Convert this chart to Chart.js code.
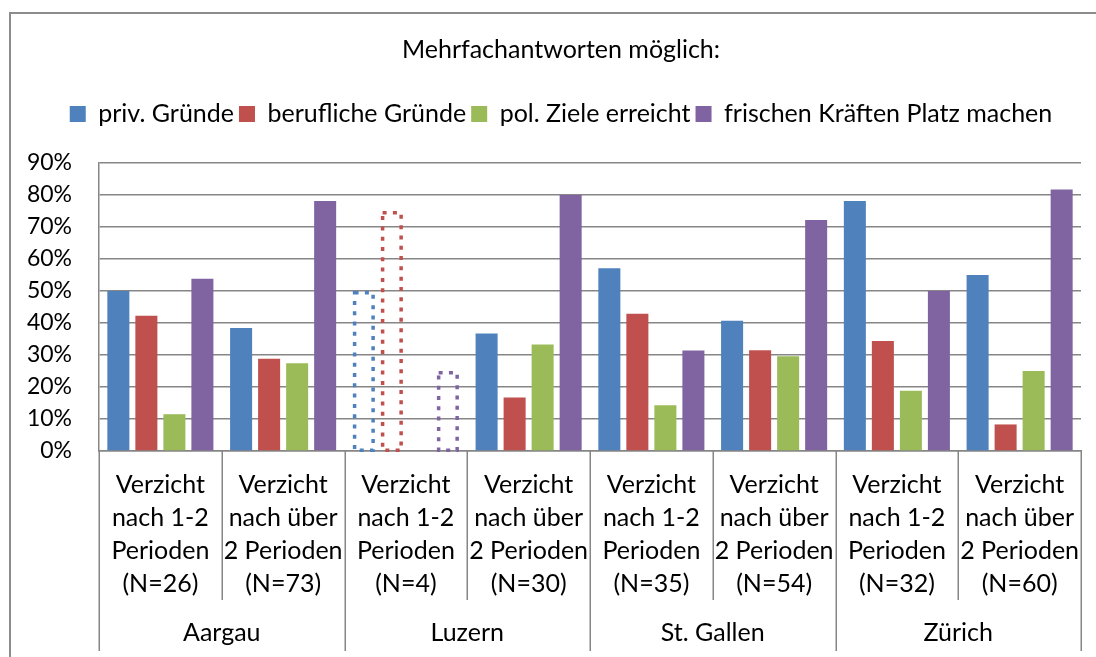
<!DOCTYPE html>
<html><head><meta charset="utf-8">
<script src="https://cdn.jsdelivr.net/npm/chart.js@4.4.0/dist/chart.umd.min.js"></script>
<style>html,body{margin:0;padding:0;background:#fff;}#wrap{width:1096px;height:657px;}</style>
</head><body><div id="wrap"><canvas id="c" width="1096" height="657"></canvas></div>
<script>
const categories = [
  ['Verzicht','nach 1-2','Perioden','(N=26)'],
  ['Verzicht','nach über','2 Perioden','(N=73)'],
  ['Verzicht','nach 1-2','Perioden','(N=4)'],
  ['Verzicht','nach über','2 Perioden','(N=30)'],
  ['Verzicht','nach 1-2','Perioden','(N=35)'],
  ['Verzicht','nach über','2 Perioden','(N=54)'],
  ['Verzicht','nach 1-2','Perioden','(N=32)'],
  ['Verzicht','nach über','2 Perioden','(N=60)']
];
const groups = ['Aargau','Luzern','St. Gallen','Zürich'];
const seriesNames = ['priv. Gründe','berufliche Gründe','pol. Ziele erreicht','frischen Kräften Platz machen'];
const privGruende       = [50.0, 38.4, 50, 36.7, 57.1, 40.7, 78.1, 55.0];
const beruflicheGruende = [42.3, 28.8, 75, 16.7, 42.9, 31.5, 34.4, 8.3];
const polZiele          = [11.5, 27.4, 0, 33.3, 14.3, 29.6, 18.8, 25.0];
const frischeKraefte    = [53.8, 78.1, 25, 80.0, 31.4, 72.2, 50.0, 81.7];
const yTicks = [0,10,20,30,40,50,60,70,80,90];
const dottedCategories = [2]; // small sample (N=4): outline only
const colors = ['#4F81BD','#C0504D','#9BBB59','#8064A2'];
const FONT = 'Lato';
const AXIS = '#868686';

const seriesValues = [privGruende, beruflicheGruende, polZiele, frischeKraefte];

const deco = {
  id: 'deco',
  beforeDraw(chart) {
    const ctx = chart.ctx;
    ctx.save();
    ctx.fillStyle = '#fff';
    ctx.fillRect(0, 0, chart.width, chart.height);
    ctx.strokeStyle = '#8c8c8c';
    ctx.lineWidth = 2;
    ctx.beginPath();
    ctx.moveTo(10, chart.height);
    ctx.lineTo(10, 13);
    ctx.lineTo(chart.width, 13);
    ctx.stroke();
    ctx.restore();
  },
  afterDatasetsDraw(chart) {
    const ctx = chart.ctx;
    ctx.save();
    chart.data.datasets.forEach((ds, di) => {
      const meta = chart.getDatasetMeta(di);
      dottedCategories.forEach(ci => {
        const el = meta.data[ci];
        if (!el || !(ds.data[ci] > 0)) return;
        const p = el.getProps(['x','y','base','width'], true);
        const lw = 3.5;
        ctx.strokeStyle = colors[di];
        ctx.lineWidth = lw;
        ctx.setLineDash([4, 6.3]);
        ctx.strokeRect(p.x - p.width/2 + lw/2, p.y + lw/2, p.width - lw, p.base - p.y - lw/2);
      });
    });
    ctx.restore();
  },
  afterDraw(chart) {
    const x = chart.scales.x;
    const ctx = chart.ctx;
    const n = categories.length;
    const w = (x.right - x.left) / n;
    const top = chart.chartArea.bottom;
    ctx.save();
    ctx.strokeStyle = AXIS;
    ctx.lineWidth = 1.5;
    for (let i = 0; i <= n; i++) {
      const px = Math.round(x.left + i * w) + 0.25;
      const isGroup = i % 2 === 0;
      ctx.beginPath();
      ctx.moveTo(px, top);
      ctx.lineTo(px, top + (isGroup ? 200 : 149));
      ctx.stroke();
    }
    ctx.fillStyle = '#000';
    ctx.font = '25px ' + FONT;
    ctx.textAlign = 'center';
    ctx.textBaseline = 'middle';
    groups.forEach((g, k) => ctx.fillText(g, x.left + (2*k + 1) * w, top + 182));
    ctx.restore();
  }
};

new Chart(document.getElementById('c'), {
  type: 'bar',
  data: {
    labels: categories,
    datasets: seriesNames.map((name, i) => ({
      label: name,
      data: seriesValues[i],
      backgroundColor: ctx => dottedCategories.includes(ctx.dataIndex) ? 'rgba(0,0,0,0)' : colors[i],
      borderWidth: 0,
      categoryPercentage: 0.913,
      barPercentage: 0.786
    }))
  },
  options: {
    responsive: false,
    animation: false,
    devicePixelRatio: 1,
    layout: { padding: { left: 26, right: 0, top: 0, bottom: 0 } },
    plugins: {
      title: {
        display: true,
        text: 'Mehrfachantworten möglich:',
        color: '#000',
        font: { family: FONT, size: 25, weight: 'normal', lineHeight: 1.2 },
        padding: { top: 35, bottom: 31.5 }
      },
      subtitle: {
        display: true,
        text: '',
        weight: 500,
        font: { size: 10, lineHeight: 1 },
        padding: { top: 8.25, bottom: 8.25 }
      },
      legend: {
        display: true,
        position: 'top',
        labels: {
          color: '#000',
          font: { family: FONT, size: 25 },
          boxWidth: 16, boxHeight: 16, padding: 5
        }
      },
      tooltip: { enabled: false }
    },
    scales: {
      x: {
        offset: true,
        grid: { display: false },
        border: { display: true, color: AXIS, width: 1.5 },
        ticks: {
          color: '#000', autoSkip: false, maxRotation: 0,
          font: { family: FONT, size: 25, lineHeight: 1.31 },
          padding: 10
        },
        afterFit(s) { s.height = 206; }
      },
      y: {
        min: 0, max: 90,
        afterBuildTicks(s) { s.ticks = yTicks.map(v => ({ value: v })); },
        grid: { color: AXIS, lineWidth: 1.5, drawTicks: false },
        border: { display: true, color: AXIS, width: 1.5 },
        ticks: {
          color: '#000', padding: 27,
          font: { family: FONT, size: 23 },
          callback: v => v + '%'
        },
        afterFit(s) { s.width = 73; }
      },
      yRight: {
        position: 'right',
        display: true,
        grid: { display: false },
        border: { display: false },
        ticks: { display: false },
        afterFit(s) { s.width = 15; }
      }
    }
  },
  plugins: [deco]
});
</script>
</body></html>
